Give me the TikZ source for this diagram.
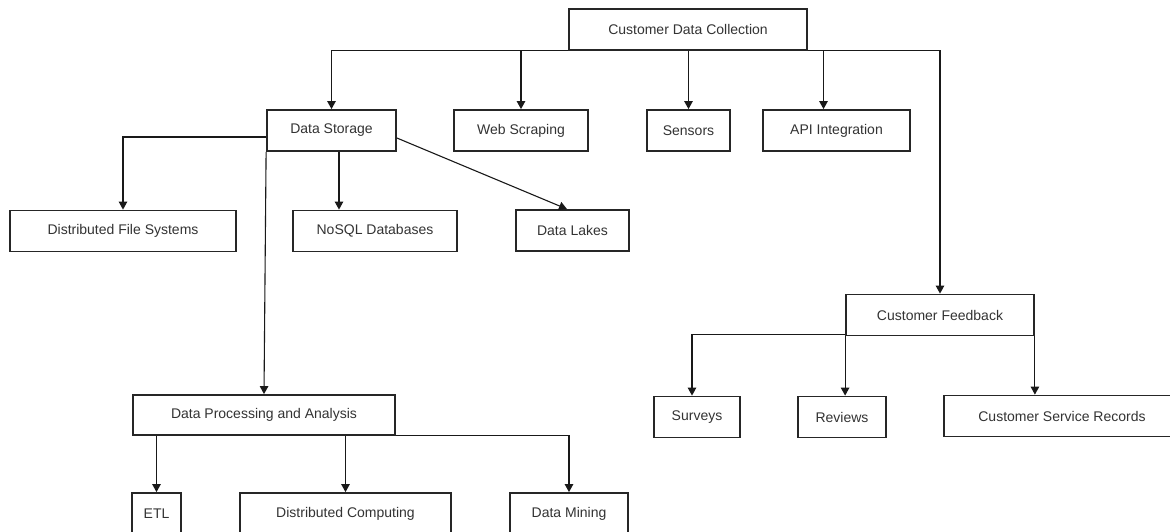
\documentclass[tikz,border=0pt]{standalone}
\usepackage{fontspec}
\setmainfont{Liberation Sans}
\usetikzlibrary{arrows.meta}

\begin{document}
\begin{tikzpicture}[x=1pt,y=-1pt,>={Triangle[length=8pt,width=8.5pt]},
  box/.style={draw=black!85,line width=1.8pt,fill=white,inner sep=0pt,
    minimum height=41pt,text=black!80,font=\fontsize{14}{16}\selectfont},
  link/.style={->,line width=1.1pt,black!90}]
\fill[white] (0,0) rectangle (1170,532);
\useasboundingbox (0,0) rectangle (1170,532);
\clip (0,0) rectangle (1170,532);

% top level
\node[box,minimum width=238pt] (cdc) at (688,29.5) {Customer Data Collection};

% second row
\node[box,minimum width=129pt] (store) at (331.5,130.5) {Data Storage};
\node[box,minimum width=134pt] (web) at (521,130.5) {Web Scraping};
\node[box,minimum width=83pt] (sensors) at (688.5,130.5) {Sensors};
\node[box,minimum width=147pt] (api) at (836.5,130.5) {API Integration};

% storage
\node[box,minimum width=226pt] (dfs) at (123,231) {Distributed File Systems};
\node[box,minimum width=164pt] (nosql) at (375,231) {NoSQL Databases};
\node[box,minimum width=113pt] (lakes) at (572.5,230.5) {Data Lakes};

% feedback
\node[box,minimum width=188pt] (feedback) at (940,315) {Customer Feedback};
\node[box,minimum width=86pt] (surveys) at (697,417) {Surveys};
\node[box,minimum width=88pt] (reviews) at (842,417) {Reviews};
\node[box,minimum width=236pt] (csr) at (1062,416) {Customer Service Records};

% processing
\node[box,minimum width=262pt,minimum height=40pt] (dpa) at (264,415) {Data Processing and Analysis};
\node[box,minimum width=49pt,minimum height=42pt] (etl) at (156.5,514) {ETL};
\node[box,minimum width=211pt,minimum height=42pt] (dc) at (345.5,514) {Distributed Computing};
\node[box,minimum width=118pt,minimum height=42pt] (dm) at (569,514) {Data Mining};

\draw[link] (cdc.south west) -| (store.north);
\draw[link] (web.north |- cdc.south) -- (web.north);
\draw[link] (sensors.north |- cdc.south) -- (sensors.north);
\draw[link] ([xshift=-13pt]api.north |- cdc.south) -- ([xshift=-13pt]api.north);
\draw[link] (cdc.south east) -| (feedback.north);

\draw[link] ([yshift=-6.5pt]store.west) -| (dfs.north);
\draw[link] ([xshift=-36pt]nosql.north |- store.south) -- ([xshift=-36pt]nosql.north);
\draw[link] ([yshift=-7.5pt]store.east) -- ([xshift=-5.5pt]lakes.north);
\draw[link] (store.south west) -- (dpa.north);

\draw[link] (etl.north |- dpa.south) -- (etl.north);
\draw[link] (dc.north |- dpa.south) -- (dc.north);
\draw[link] (dpa.south east) -| (dm.north);

\draw[link] ([yshift=2pt]feedback.south west) -| ([xshift=-5pt]surveys.north);
\draw[link] (feedback.south west) -- (feedback.south west |- reviews.north);
\draw[link] (feedback.south east) -- (feedback.south east |- csr.north);
\end{tikzpicture}
\end{document}
